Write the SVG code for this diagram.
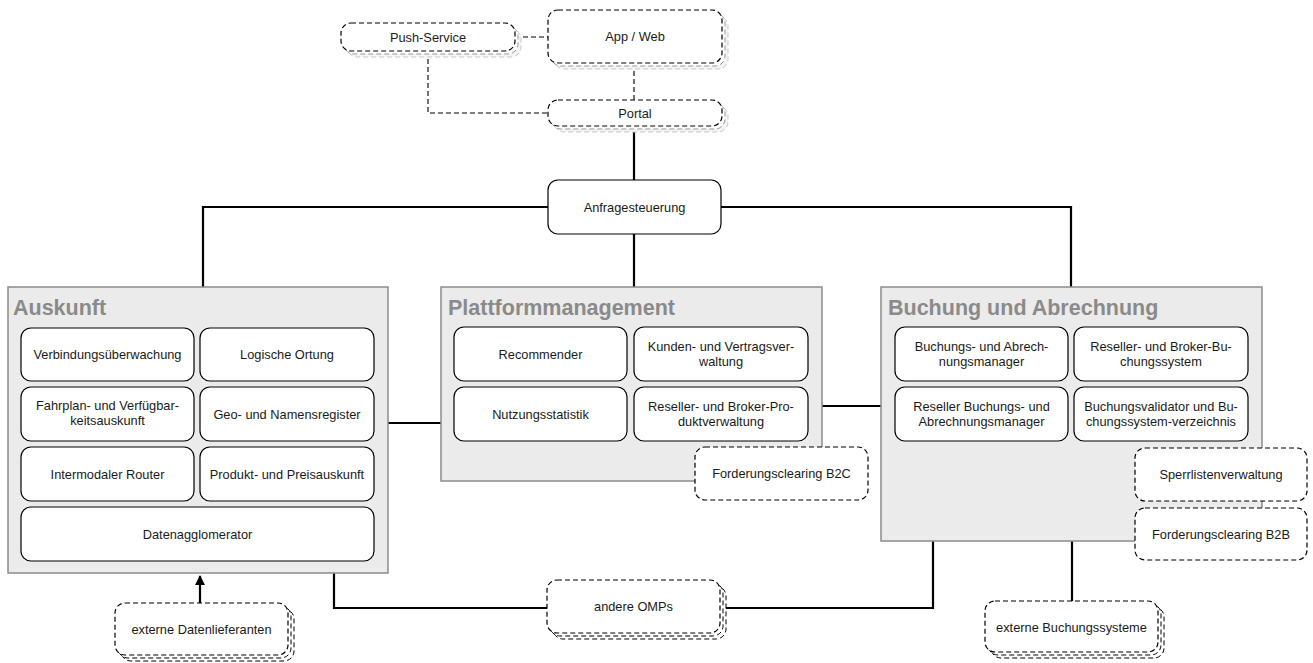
<svg xmlns="http://www.w3.org/2000/svg" width="1313" height="663" viewBox="0 0 1313 663">
<style>
  text { font-family: "Liberation Sans", Arial, sans-serif; font-size: 12.8px; fill: #1a1a1a; text-anchor: middle; }
  .title { font-size: 21.5px; font-weight: bold; fill: #8a8a8a; text-anchor: start; }
  .group { fill: #ebebeb; stroke: #8c8c8c; stroke-width: 1.5; }
  .box { fill: #ffffff; stroke: #000; stroke-width: 1.2; }
  .dbox { fill: #ffffff; stroke: #000; stroke-width: 1.2; stroke-dasharray: 5 3; }
  .dback { fill: #ffffff; stroke: #000; stroke-width: 1; stroke-dasharray: 5 3; }
  .gback1 { fill: #ffffff; stroke: #999; stroke-width: 1; stroke-dasharray: 5 3; }
  .gback2 { fill: #f4f4f4; stroke: #c8c8c8; stroke-width: 1; stroke-dasharray: 5 3; }
  .solid { fill: none; stroke: #000; stroke-width: 2.2; }
  .dash { fill: none; stroke: #000; stroke-width: 1.1; stroke-dasharray: 5 3; }
</style>
<defs>
  <marker id="arrow" viewBox="0 0 10 10" refX="9" refY="5" markerWidth="4.5" markerHeight="4.5" orient="auto" markerUnits="strokeWidth">
    <path d="M0,0 L10,5 L0,10 z" fill="#000"/>
  </marker>
</defs>

<g id="connectors">
  <path class="dash" d="M515,37 L548,37"/>
  <path class="dash" d="M428,51 L428,113 L548,113"/>
  <path class="dash" d="M634,63 L634,100"/>
  <path class="solid" d="M634,126 L634,180"/>
  <path class="solid" d="M548,207 L203,207 L203,287"/>
  <path class="solid" d="M721,207 L1071,207 L1071,287"/>
  <path class="solid" d="M634,234 L634,287"/>
  <path class="solid" d="M388,423 L441,423"/>
  <path class="solid" d="M822,406 L881,406"/>
  <path class="solid" d="M334,573 L334,608 L547,608"/>
  <path class="solid" d="M726,608 L933,608 L933,541"/>
  <path class="solid" d="M1072,541 L1072,601"/>
  <path class="solid" d="M200,603 L200,576" marker-end="url(#arrow)"/>
</g>

<g id="push-service">
  <rect class="gback2" x="347" y="29" width="174" height="28" rx="10"/>
  <rect class="gback1" x="344" y="26" width="174" height="28" rx="10"/>
  <rect class="dbox" x="341" y="23" width="174" height="28" rx="10"/>
  <text x="428" y="41.5">Push-Service</text>
</g>
<g id="app-web">
  <rect class="gback2" x="554" y="16" width="174" height="53" rx="10"/>
  <rect class="gback1" x="551" y="13" width="174" height="53" rx="10"/>
  <rect class="dbox" x="548" y="10" width="174" height="53" rx="10"/>
  <text x="635" y="41">App / Web</text>
</g>
<g id="portal">
  <rect class="gback2" x="554" y="106" width="174" height="26" rx="10"/>
  <rect class="gback1" x="551" y="103" width="174" height="26" rx="10"/>
  <rect class="dbox" x="548" y="100" width="174" height="26" rx="10"/>
  <text x="635" y="118">Portal</text>
</g>
<g id="anfragesteuerung">
  <rect class="box" x="548" y="180" width="173" height="54" rx="10"/>
  <text x="634.5" y="211.5">Anfragesteuerung</text>
</g>

<g id="auskunft">
  <rect class="group" x="8" y="287" width="380" height="286"/>
  <text class="title" x="13" y="315">Auskunft</text>
  <g id="verbindungsueberwachung">
    <rect class="box" x="21" y="328" width="173" height="53" rx="10"/>
    <text x="107.5" y="359">Verbindungsüberwachung</text>
  </g>
  <g id="logische-ortung">
    <rect class="box" x="200" y="328" width="174" height="53" rx="10"/>
    <text x="287" y="359">Logische Ortung</text>
  </g>
  <g id="fahrplan">
    <rect class="box" x="21" y="387" width="173" height="54" rx="10"/>
    <text x="107.5" y="410">Fahrplan- und Verfügbar-</text>
    <text x="107.5" y="425">keitsauskunft</text>
  </g>
  <g id="geo">
    <rect class="box" x="200" y="387" width="174" height="54" rx="10"/>
    <text x="287" y="418.5">Geo- und Namensregister</text>
  </g>
  <g id="router">
    <rect class="box" x="21" y="447" width="173" height="54" rx="10"/>
    <text x="107.5" y="478.5">Intermodaler Router</text>
  </g>
  <g id="preisauskunft">
    <rect class="box" x="200" y="447" width="174" height="54" rx="10"/>
    <text x="287" y="478.5">Produkt- und Preisauskunft</text>
  </g>
  <g id="datenagglomerator">
    <rect class="box" x="21" y="507" width="353" height="54" rx="10"/>
    <text x="197.5" y="538.5">Datenagglomerator</text>
  </g>
</g>

<g id="plattformmanagement">
  <rect class="group" x="441" y="287" width="381" height="194"/>
  <text class="title" x="448" y="315">Plattformmanagement</text>
  <g id="recommender">
    <rect class="box" x="454" y="327" width="173" height="54" rx="10"/>
    <text x="540.5" y="358.5">Recommender</text>
  </g>
  <g id="kundenverwaltung">
    <rect class="box" x="634" y="327" width="174" height="54" rx="10"/>
    <text x="721" y="351">Kunden- und Vertragsver-</text>
    <text x="721" y="366">waltung</text>
  </g>
  <g id="nutzungsstatistik">
    <rect class="box" x="454" y="387" width="173" height="54" rx="10"/>
    <text x="540.5" y="418.5">Nutzungsstatistik</text>
  </g>
  <g id="produktverwaltung">
    <rect class="box" x="634" y="387" width="174" height="54" rx="10"/>
    <text x="721" y="411">Reseller- und Broker-Pro-</text>
    <text x="721" y="426">duktverwaltung</text>
  </g>
</g>
<g id="forderungsclearing-b2c">
  <rect class="dbox" x="695" y="447" width="173" height="53" rx="10"/>
  <text x="781.5" y="478">Forderungsclearing B2C</text>
</g>

<g id="buchung">
  <rect class="group" x="881" y="287" width="381" height="254"/>
  <text class="title" x="888" y="315">Buchung und Abrechnung</text>
  <g id="buchungsmanager">
    <rect class="box" x="895" y="327" width="173" height="54" rx="10"/>
    <text x="981.5" y="351">Buchungs- und Abrech-</text>
    <text x="981.5" y="366">nungsmanager</text>
  </g>
  <g id="broker-buchungssystem">
    <rect class="box" x="1074" y="327" width="174" height="54" rx="10"/>
    <text x="1161" y="351">Reseller- und Broker-Bu-</text>
    <text x="1161" y="366">chungssystem</text>
  </g>
  <g id="reseller-buchungsmanager">
    <rect class="box" x="895" y="387" width="173" height="54" rx="10"/>
    <text x="981.5" y="411">Reseller Buchungs- und</text>
    <text x="981.5" y="426">Abrechnungsmanager</text>
  </g>
  <g id="buchungsvalidator">
    <rect class="box" x="1074" y="387" width="174" height="54" rx="10"/>
    <text x="1161" y="411">Buchungsvalidator und Bu-</text>
    <text x="1161" y="426">chungssystem-verzeichnis</text>
  </g>
</g>
<g id="sperrlistenverwaltung">
  <rect class="dbox" x="1135" y="448" width="172" height="53" rx="10"/>
  <text x="1221" y="479">Sperrlistenverwaltung</text>
</g>
<g id="forderungsclearing-b2b">
  <rect class="dbox" x="1135" y="508" width="172" height="52" rx="10"/>
  <text x="1221" y="538.5">Forderungsclearing B2B</text>
</g>

<g id="externe-datenlieferanten">
  <rect class="dback" x="121" y="609" width="173" height="52" rx="10"/>
  <rect class="dback" x="118" y="606" width="173" height="52" rx="10"/>
  <rect class="dbox" x="115" y="603" width="173" height="52" rx="10"/>
  <text x="201.5" y="633.5">externe Datenlieferanten</text>
</g>
<g id="andere-omps">
  <rect class="dback" x="553" y="586" width="173" height="53" rx="10"/>
  <rect class="dback" x="550" y="583" width="173" height="53" rx="10"/>
  <rect class="dbox" x="547" y="580" width="173" height="53" rx="10"/>
  <text x="633.5" y="611">andere OMPs</text>
</g>
<g id="externe-buchungssysteme">
  <rect class="dback" x="991" y="607" width="173" height="51" rx="10"/>
  <rect class="dback" x="988" y="604" width="173" height="51" rx="10"/>
  <rect class="dbox" x="985" y="601" width="173" height="51" rx="10"/>
  <text x="1071.5" y="632">externe Buchungssysteme</text>
</g>
</svg>
